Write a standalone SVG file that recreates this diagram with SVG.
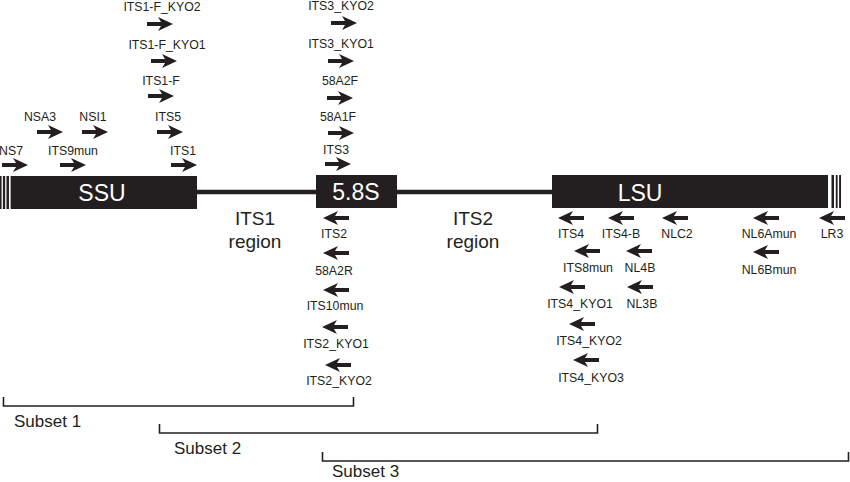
<svg xmlns="http://www.w3.org/2000/svg" xmlns:xlink="http://www.w3.org/1999/xlink" width="850" height="482" viewBox="0 0 850 482">
<defs>
<style>
text{font-family:"Liberation Sans",Arial,sans-serif;fill:#231f20}
.p{font-size:12.3px;text-anchor:middle}
.big{font-size:19px;text-anchor:middle}
.box{font-size:23px;text-anchor:middle;fill:#fff}
.sub{font-size:17px}
.br{fill:none;stroke:#231f20;stroke-width:1.6}
</style>
<path id="ar" d="M0,0 L-15,-7 L-12,-2 L-26,-2 L-26,2 L-12,2 L-15,7 Z" fill="#231f20"/>
</defs>
<rect width="850" height="482" fill="#fff"/>
<g id="connectors">
<line x1="197" y1="192" x2="552" y2="192" stroke="#231f20" stroke-width="4.5"/>
</g>
<g id="SSU">
<rect x="0" y="176" width="197" height="33" fill="#231f20"/>
<rect x="1.6" y="176" width="1.3" height="33" fill="#fff"/>
<rect x="5.2" y="176" width="1.3" height="33" fill="#fff"/>
<rect x="9" y="176" width="1.6" height="33" fill="#fff"/>
<text class="box" x="102" y="201">SSU</text>
</g>
<g id="s58S">
<rect x="316" y="175" width="81" height="33" fill="#231f20"/>
<text class="box" x="356" y="200">5.8S</text>
</g>
<g id="LSU">
<rect x="552" y="175" width="289" height="33" fill="#231f20"/>
<rect x="828" y="175" width="3.5" height="33" fill="#fff"/>
<rect x="834" y="175" width="1.8" height="33" fill="#fff"/>
<rect x="837.6" y="175" width="1.5" height="33" fill="#fff"/>
<text class="box" x="640" y="201">LSU</text>
</g>
<g id="regions">
<text class="big" x="255" y="225">ITS1</text>
<text class="big" x="255" y="248">region</text>
<text class="big" x="473" y="225">ITS2</text>
<text class="big" x="473" y="248">region</text>
</g>
<g id="forward-primers">
<use xlink:href="#ar" transform="translate(28,165)"/><text class="p" x="11" y="155">NS7</text>
<use xlink:href="#ar" transform="translate(86,165)"/><text class="p" x="73" y="155">ITS9mun</text>
<use xlink:href="#ar" transform="translate(197,165)"/><text class="p" x="183" y="155">ITS1</text>
<use xlink:href="#ar" transform="translate(63,132)"/><text class="p" x="40" y="121">NSA3</text>
<use xlink:href="#ar" transform="translate(108,132)"/><text class="p" x="93" y="121">NSI1</text>
<use xlink:href="#ar" transform="translate(183,132)"/><text class="p" x="168" y="121">ITS5</text>
<use xlink:href="#ar" transform="translate(174,96)"/><text class="p" x="161" y="85">ITS1-F</text>
<use xlink:href="#ar" transform="translate(177,61)"/><text class="p" x="167" y="49">ITS1-F_KYO1</text>
<use xlink:href="#ar" transform="translate(173,24)"/><text class="p" x="162" y="11">ITS1-F_KYO2</text>
<use xlink:href="#ar" transform="translate(357,23)"/><text class="p" x="341" y="10">ITS3_KYO2</text>
<use xlink:href="#ar" transform="translate(354,61)"/><text class="p" x="341" y="48">ITS3_KYO1</text>
<use xlink:href="#ar" transform="translate(353,98)"/><text class="p" x="340" y="85">58A2F</text>
<use xlink:href="#ar" transform="translate(354,133)"/><text class="p" x="338" y="121">58A1F</text>
<use xlink:href="#ar" transform="translate(351,164)"/><text class="p" x="336" y="154">ITS3</text>
</g>
<g id="reverse-primers">
<use xlink:href="#ar" transform="translate(323,218) scale(-1,1)"/><text class="p" x="334" y="238">ITS2</text>
<use xlink:href="#ar" transform="translate(323,253) scale(-1,1)"/><text class="p" x="334" y="275">58A2R</text>
<use xlink:href="#ar" transform="translate(323,290) scale(-1,1)"/><text class="p" x="335" y="310">ITS10mun</text>
<use xlink:href="#ar" transform="translate(322,327) scale(-1,1)"/><text class="p" x="336" y="348">ITS2_KYO1</text>
<use xlink:href="#ar" transform="translate(325,365) scale(-1,1)"/><text class="p" x="339" y="385">ITS2_KYO2</text>
<use xlink:href="#ar" transform="translate(558,218) scale(-1,1)"/><text class="p" x="571" y="238">ITS4</text>
<use xlink:href="#ar" transform="translate(608,218) scale(-1,1)"/><text class="p" x="621" y="238">ITS4-B</text>
<use xlink:href="#ar" transform="translate(662,218) scale(-1,1)"/><text class="p" x="677" y="238">NLC2</text>
<use xlink:href="#ar" transform="translate(753,218) scale(-1,1)"/><text class="p" x="769" y="238">NL6Amun</text>
<use xlink:href="#ar" transform="translate(819,218) scale(-1,1)"/><text class="p" x="832" y="238">LR3</text>
<use xlink:href="#ar" transform="translate(574,251) scale(-1,1)"/><text class="p" x="588" y="272">ITS8mun</text>
<use xlink:href="#ar" transform="translate(626,251) scale(-1,1)"/><text class="p" x="640" y="272">NL4B</text>
<use xlink:href="#ar" transform="translate(753,252) scale(-1,1)"/><text class="p" x="769" y="274">NL6Bmun</text>
<use xlink:href="#ar" transform="translate(559,287) scale(-1,1)"/><text class="p" x="580" y="308">ITS4_KYO1</text>
<use xlink:href="#ar" transform="translate(627,287) scale(-1,1)"/><text class="p" x="642" y="308">NL3B</text>
<use xlink:href="#ar" transform="translate(569,324) scale(-1,1)"/><text class="p" x="589" y="345">ITS4_KYO2</text>
<use xlink:href="#ar" transform="translate(573,360) scale(-1,1)"/><text class="p" x="591" y="382">ITS4_KYO3</text>
</g>
<g id="subsets">
<path class="br" d="M3.5,397 V406 H353.5 V397"/>
<text class="sub" x="14" y="427">Subset 1</text>
<path class="br" d="M159.5,424 V433 H597.5 V424"/>
<text class="sub" x="174" y="454">Subset 2</text>
<path class="br" d="M322.5,452 V461 H848.5 V452"/>
<text class="sub" x="332" y="477">Subset 3</text>
</g>
</svg>
